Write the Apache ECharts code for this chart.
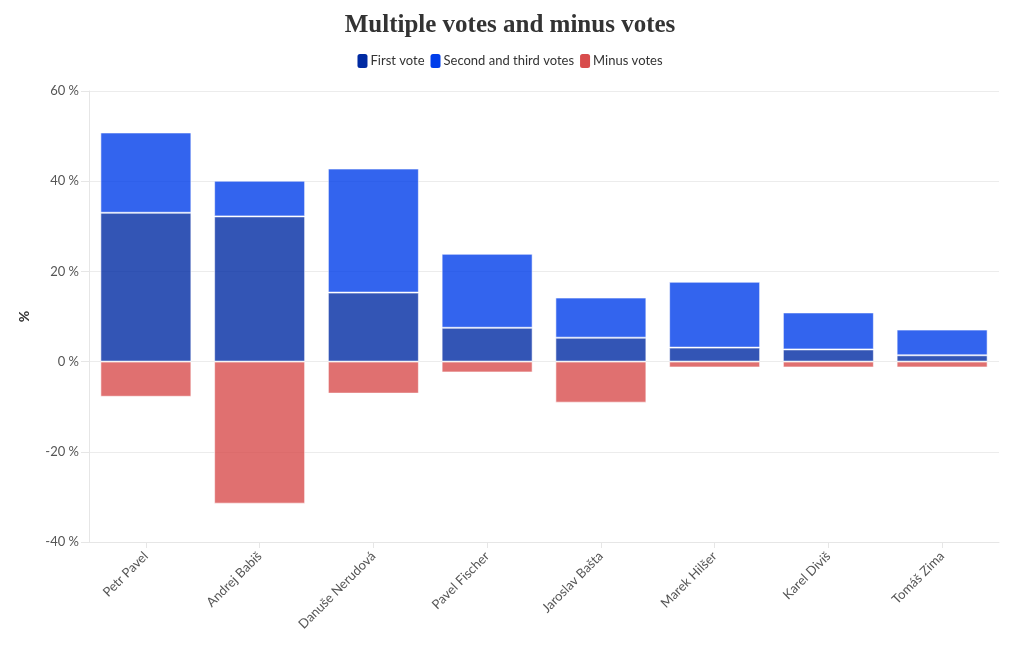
<!DOCTYPE html>
<html><head><meta charset="utf-8">
<script src="https://cdn.jsdelivr.net/npm/echarts@6/dist/echarts.min.js"></script>
<style>html,body{margin:0;padding:0;background:#fff}#c{width:1020px;height:650px}</style>
</head><body><div id="c"></div>
<script>
const categories = ['Petr Pavel','Andrej Babiš','Danuše Nerudová','Pavel Fischer','Jaroslav Bašta','Marek Hilšer','Karel Diviš','Tomáš Zima'];
const firstVote = [33.0, 32.2, 15.3, 7.5, 5.3, 3.1, 2.7, 1.4];
const secondThird = [17.8, 7.9, 27.5, 16.4, 8.9, 14.6, 8.2, 5.7];
const minusVotes = [-7.8, -31.5, -7.1, -2.4, -9.1, -1.3, -1.3, -1.3];
const yTicks = {min: -40, max: 60, interval: 20};

const chart = echarts.init(document.getElementById('c'));
const font = 'Lato,"Open Sans","Noto Sans",sans-serif';
function bar(name, data, color){
  return {name, type:'bar', stack:'a', data, barWidth:'80%',
    itemStyle:{color, opacity:0.8, borderColor:'rgba(255,255,255,0.7)', borderWidth:1},
    emphasis:{disabled:true}};
}
chart.setOption({
  animation:false,
  title:{text:'Multiple votes and minus votes', left:'center', top:8,
    textStyle:{fontFamily:'"Liberation Serif",serif', fontWeight:'bold', fontSize:25, color:'#333'}},
  legend:{top:49, left:'center', itemWidth:10, itemHeight:14, itemGap:6,
    icon:'roundRect', itemStyle:{opacity:1, borderWidth:0},
    textStyle:{fontFamily:font, fontSize:13, color:'#333', padding:[0,0,0,-2]}},
  grid:{left:89, right:21, top:91, bottom:108},
  xAxis:{type:'category', data:categories,
    axisLine:{onZero:false, lineStyle:{color:'#e6e6e6'}},
    axisTick:{show:true, alignWithLabel:true, length:6, lineStyle:{color:'#e6e6e6'}},
    axisLabel:{rotate:45, fontFamily:font, fontSize:13, color:'#555', margin:12}},
  yAxis:{type:'value', min:yTicks.min, max:yTicks.max, interval:yTicks.interval,
    name:'%', nameLocation:'middle', nameGap:58,
    nameTextStyle:{fontFamily:font, fontSize:14, fontWeight:'bold', color:'#333'},
    axisLine:{show:true, lineStyle:{color:'#e6e6e6'}},
    axisTick:{show:true, length:8, lineStyle:{color:'#e6e6e6'}},
    splitLine:{lineStyle:{color:'#ececec'}},
    axisLabel:{formatter:'{value} %', fontFamily:font, fontSize:13, color:'#555', margin:10}},
  series:[
    bar('First vote', firstVote, '#002aa2'),
    bar('Second and third votes', secondThird, '#003dea'),
    bar('Minus votes', minusVotes, '#d84c4c')
  ]
});
</script></body></html>
